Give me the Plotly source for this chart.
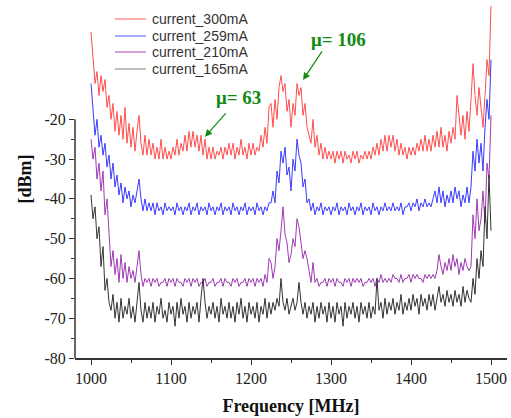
import numpy as np
import plotly.graph_objects as go

# Frequency grid of the spectrum analyser sweep (MHz)
freq_start = 1000.0
freq_step = 2.5
n_points = 201
freq = freq_start + freq_step * np.arange(n_points)

# Measured power levels (dBm), one value per sweep point
p_300mA = [
    2.0, -4.0, -11, -8, -14, -9, -13, -10, -17, -14,
    -20, -16, -23, -18, -24, -19, -25, -17, -26, -21,
    -27, -22, -28, -23, -19, -26, -29, -24, -29, -25,
    -29, -26, -30, -27, -30, -25, -30, -27, -30, -28,
    -30, -27, -29, -25, -29, -26, -28, -24, -28, -23,
    -27, -23, -27, -24, -28, -24, -29, -25, -30, -27,
    -30, -27, -30, -28, -29, -27, -30, -27, -29, -26,
    -29, -26, -30, -27, -29, -25, -29, -27, -30, -26,
    -29, -26, -29, -27, -28, -24, -27, -22, -26, -17,
    -16, -22, -15, -20, -12, -9, -13, -11, -18, -15,
    -22, -16, -19, -11, -14, -12, -19, -16, -22, -24,
    -26, -20, -27, -24, -29, -26, -30, -27, -30, -28,
    -30, -28, -31, -28, -30, -28, -31, -28, -30, -29,
    -31, -28, -30, -28, -31, -29, -30, -28, -30, -28,
    -30, -27, -29, -26, -29, -25, -28, -24, -28, -24,
    -27, -24, -28, -25, -29, -26, -29, -27, -30, -27,
    -29, -27, -29, -26, -28, -25, -28, -24, -28, -25,
    -28, -24, -27, -23, -27, -22, -27, -24, -28, -23,
    -26, -22, -25, -14, -20, -24, -19, -25, -18, -23,
    -15, -6, -14, -19, -12, -18, -22, -14, -5, -9,
    8.5,
]

p_259mA = [
    -11, -17, -24, -20, -27, -24, -29, -26, -32, -29,
    -35, -31, -37, -34, -39, -36, -41, -37, -40, -38,
    -42, -39, -41, -38, -35, -40, -43, -40, -43, -41,
    -43, -41, -44, -41, -43, -42, -44, -41, -43, -42,
    -43, -42, -44, -41, -43, -42, -44, -42, -43, -41,
    -44, -42, -43, -41, -44, -42, -43, -42, -44, -41,
    -43, -42, -44, -42, -43, -41, -44, -42, -43, -42,
    -44, -41, -43, -42, -44, -42, -43, -41, -44, -42,
    -43, -42, -44, -41, -43, -42, -44, -42, -43, -41,
    -41, -38, -41, -33, -36, -28, -31, -27, -34, -32,
    -38, -30, -33, -25, -29, -31, -37, -35, -41, -40,
    -43, -41, -44, -42, -43, -41, -44, -42, -43, -42,
    -44, -42, -43, -41, -44, -42, -43, -42, -44, -41,
    -43, -42, -44, -42, -43, -41, -44, -42, -43, -42,
    -44, -41, -43, -42, -44, -42, -43, -41, -43, -42,
    -43, -41, -43, -42, -43, -41, -44, -42, -42, -41,
    -43, -41, -42, -40, -43, -41, -42, -40, -42, -41,
    -42, -40, -38, -41, -37, -41, -38, -42, -39, -41,
    -38, -41, -37, -40, -38, -42, -39, -41, -37, -41,
    -37, -28, -33, -25, -31, -26, -33, -22, -15, -20,
    -5,
]

p_210mA = [
    -25, -30, -27, -35, -31, -38, -33, -44, -40, -50,
    -57, -53, -59, -55, -61, -54, -60, -56, -61, -57,
    -60, -58, -61, -57, -53, -59, -62, -60, -61, -60,
    -62, -60, -61, -60, -62, -61, -61, -60, -62, -60,
    -61, -60, -62, -60, -61, -61, -62, -60, -61, -60,
    -62, -60, -61, -60, -62, -61, -61, -60, -62, -61,
    -61, -60, -62, -61, -61, -60, -62, -60, -61, -61,
    -62, -60, -61, -60, -62, -61, -61, -60, -62, -60,
    -61, -60, -62, -60, -61, -60, -62, -59, -61, -55,
    -56, -60, -57, -50, -53, -48, -42, -49, -51, -56,
    -54, -50, -52, -45, -47, -51, -55, -53, -55, -58,
    -61, -56, -61, -60, -62, -61, -61, -60, -62, -60,
    -61, -60, -62, -60, -61, -61, -62, -60, -61, -60,
    -62, -60, -61, -60, -61, -60, -62, -61, -61, -60,
    -61, -60, -62, -60, -61, -59, -61, -60, -61, -60,
    -61, -59, -60, -60, -61, -59, -61, -60, -60, -59,
    -61, -59, -60, -59, -60, -60, -61, -59, -60, -59,
    -60, -59, -60, -58, -54, -57, -59, -56, -58, -55,
    -58, -54, -57, -55, -59, -56, -58, -55, -57, -58,
    -57, -44, -50, -40, -48, -45, -38, -46, -31, -35,
    -19,
]

p_165mA = [
    -39, -45, -42, -50, -47, -57, -52, -63, -60, -66,
    -68, -64, -70, -66, -71, -65, -70, -67, -69, -65,
    -70, -67, -71, -66, -61, -68, -71, -66, -70, -67,
    -70, -66, -71, -67, -69, -65, -70, -68, -71, -66,
    -69, -67, -72, -66, -70, -65, -69, -67, -71, -66,
    -70, -67, -69, -66, -71, -65, -60, -66, -70, -67,
    -69, -66, -70, -67, -71, -65, -69, -67, -70, -66,
    -70, -67, -71, -66, -69, -65, -70, -67, -71, -66,
    -69, -67, -70, -66, -71, -67, -69, -65, -70, -66,
    -69, -66, -68, -65, -67, -60, -66, -68, -65, -69,
    -67, -65, -68, -66, -61, -66, -69, -66, -70, -67,
    -69, -66, -71, -67, -70, -66, -69, -67, -71, -66,
    -70, -67, -71, -66, -69, -67, -72, -66, -70, -67,
    -69, -66, -70, -67, -71, -66, -69, -67, -70, -66,
    -70, -67, -69, -60, -68, -66, -70, -65, -69, -66,
    -68, -65, -69, -66, -68, -64, -69, -66, -68, -65,
    -68, -64, -67, -65, -69, -64, -67, -65, -68, -64,
    -67, -64, -68, -65, -62, -66, -64, -67, -63, -66,
    -64, -67, -63, -66, -64, -67, -62, -66, -63, -65,
    -66, -60, -64, -55, -60, -53, -57, -42, -50, -34,
    -48,
]

series_names = ["current_300mA", "current_259mA", "current_210mA", "current_165mA"]
series_values = [p_300mA, p_259mA, p_210mA, p_165mA]
series_colors = ["#ff4f4f", "#3a3aff", "#a03ab4", "#333333"]
legend_colors = ["#ff9090", "#8c8cff", "#cc80cc", "#aaaaaa"]

y_tick_vals = [-80, -70, -60, -50, -40, -30, -20]
x_tick_vals = [1000, 1100, 1200, 1300, 1400, 1500]

fig = go.Figure()
for name, vals, col in zip(series_names, series_values, series_colors):
    fig.add_trace(go.Scatter(x=freq, y=vals, mode="lines", name=name,
                             line=dict(color=col, width=1), showlegend=False))

serif = "Liberation Serif, Times New Roman, serif"
sans = "Liberation Sans, Arial, sans-serif"
green = "#128a12"

fig.update_layout(
    width=511, height=418,
    margin=dict(l=75, r=4, t=0, b=60),
    paper_bgcolor="white", plot_bgcolor="white",
    showlegend=False,
    xaxis=dict(range=[980, 1520], showgrid=False, zeroline=False,
               showline=True, linecolor="#333", linewidth=1.5,
               tickvals=x_tick_vals, ticktext=[str(v) for v in x_tick_vals],
               ticks="outside", ticklen=5, tickwidth=1.2, tickcolor="#333",
               minor=dict(tickvals=[1050, 1150, 1250, 1350, 1450], ticks="outside",
                          ticklen=3, tickwidth=1.2, tickcolor="#333"),
               tickfont=dict(family=serif, size=16, color="#222"),
               title=dict(text="<b>Frequency [MHz]</b>", standoff=13,
                          font=dict(family=serif, size=18, color="#111"))),
    yaxis=dict(range=[-80, 10], showgrid=False, zeroline=False, showline=False,
               tickvals=y_tick_vals, ticktext=[str(v) for v in y_tick_vals],
               ticks="outside", ticklen=5, tickwidth=1.2, tickcolor="#333",
               minor=dict(tickvals=[-75, -65, -55, -45, -35, -25], ticks="outside",
                          ticklen=3, tickwidth=1.2, tickcolor="#333"),
               tickfont=dict(family=serif, size=16, color="#222"),
               title=dict(text="<b>[dBm]</b>", standoff=8,
                          font=dict(family=serif, size=18, color="#111"))),
)

# Left axis spine spans only the labelled range
fig.add_shape(type="line", xref="paper", yref="y", x0=0, x1=0, y0=-80, y1=-20,
              line=dict(color="#333", width=1.5))

# Compact legend in the upper-left corner of the plot area
legend_rows_y = [0.9469, 0.8994, 0.8547, 0.8073]
for name, col, ry in zip(series_names, legend_colors, legend_rows_y):
    fig.add_shape(type="line", xref="paper", yref="paper",
                  x0=0.0926, x1=0.1644, y0=ry, y1=ry,
                  line=dict(color=col, width=1.5))
    fig.add_annotation(xref="paper", yref="paper", x=0.1736, y=ry,
                       xanchor="left", yanchor="middle", text=name, showarrow=False,
                       font=dict(family=sans, size=14, color="#333"))

# Mode-spacing annotations with arrows
fig.add_annotation(x=1142.5, y=-24.4, ax=22, ay=-25, text="", showarrow=True,
                   arrowhead=2, arrowsize=1.2, arrowwidth=1.2, arrowcolor=green)
fig.add_annotation(x=1265, y=-10.1, ax=20, ay=-30, text="", showarrow=True,
                   arrowhead=2, arrowsize=1.2, arrowwidth=1.2, arrowcolor=green)
fig.add_annotation(x=1184, y=-14.6, text="<b>μ= 63</b>", showarrow=False,
                   font=dict(family=serif, size=19, color=green))
fig.add_annotation(x=1309, y=0.0, text="<b>μ= 106</b>", showarrow=False,
                   font=dict(family=serif, size=19, color=green))

fig.write_html("out.html")
